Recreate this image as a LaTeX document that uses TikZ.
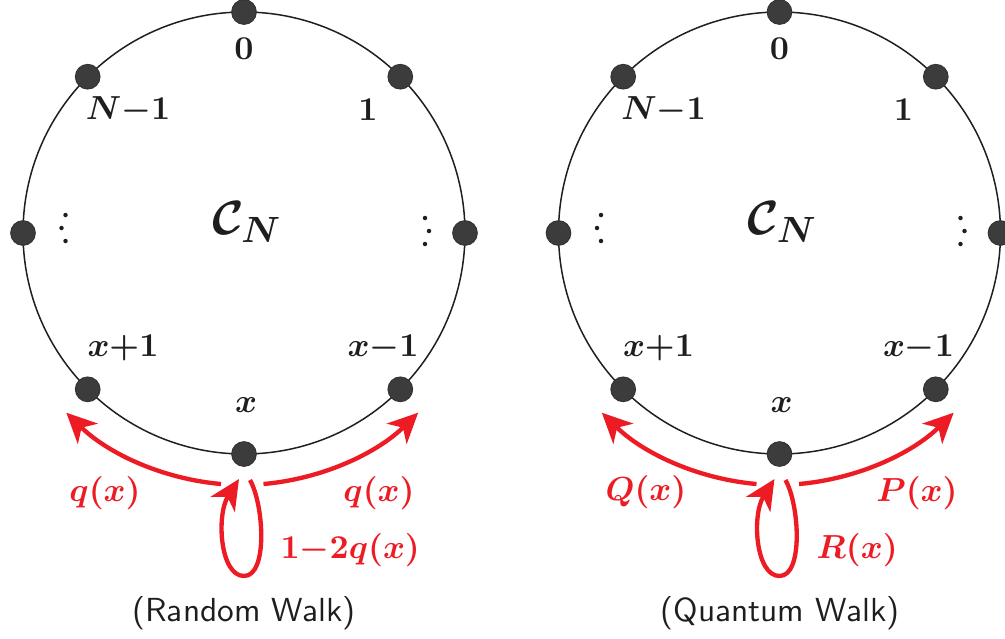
\documentclass[tikz,border=0pt]{standalone}
\usepackage{amsmath}
\usetikzlibrary{arrows.meta}
\definecolor{wred}{RGB}{237,28,36}
\definecolor{ndark}{RGB}{60,60,60}
\definecolor{txt}{RGB}{30,30,30}
\begin{document}
\begin{tikzpicture}[x=0.3pt,y=-0.3pt,
  vtx/.style={circle,fill=ndark,draw=black!80,line width=0.3pt,inner sep=0pt,minimum size=7.4pt},
  lbl/.style={text=txt,font=\boldmath,inner sep=0pt},
  rlbl/.style={text=wred,font=\boldmath,inner sep=0pt},
  ring/.style={line width=0.45pt,draw=black!88},
  warrow/.style={draw=wred,line width=1.3pt,-{Stealth[length=9pt,width=8.5pt,inset=2.6pt]}},
  vdot/.style={circle,fill=txt,inner sep=0pt,minimum size=1.35pt},
  captext/.style={text=txt,font=\sffamily,inner sep=0pt},
  bigC/.style={text=txt,font=\fontsize{15}{18}\selectfont\boldmath,inner sep=0pt}
]
\useasboundingbox (0,0) rectangle (1005,638);
\foreach \o/\s in {0/L,535.5/R}{
  \begin{scope}[shift={(\o,0)}]
    \coordinate (\s-c) at (244,233);
    \draw[ring] (\s-c) circle[radius=221];
    \node[vtx] (\s-v0)  at (244,12) {};
    \node[vtx] (\s-v1)  at (400.3,76.7) {};
    \node[vtx] (\s-vN)  at (87.7,76.7) {};
    \node[vtx] (\s-vl)  at (23,233) {};
    \node[vtx] (\s-vr)  at (465,233) {};
    \node[vtx] (\s-vxp) at (87.7,389.3) {};
    \node[vtx] (\s-vxm) at (400.3,389.3) {};
    \node[vtx] (\s-vx)  at (244,454) {};
    \node[lbl] (\s-l0) at (244,49) {$0$};
    \node[lbl] (\s-lN) at (128,110) {$N{-}1$};
    \node[lbl] (\s-l1) at (368,110) {$1$};
    \node[lbl] (\s-lxp) at (123,348) {$x{+}1$};
    \node[lbl] (\s-lxm) at (383,348) {$x{-}1$};
    \node[lbl] (\s-lx) at (246,405) {$x$};
    \node[bigC] (\s-C) at (247,222) {$\mathcal{C}_N$};
    \node[vdot] (\s-dl1) at (65.5,215) {};
    \node[vdot] (\s-dl2) at (61.5,228) {};
    \node[vdot] (\s-dl3) at (65.5,241) {};
    \node[vdot] (\s-dr1) at (425,218) {};
    \node[vdot] (\s-dr2) at (429,231) {};
    \node[vdot] (\s-dr3) at (425,244) {};
    \coordinate (\s-as) at (221,484);
    \coordinate (\s-bs) at (263.5,484);
    \coordinate (\s-ls) at (250,480);
    \coordinate (\s-lb) at (244,576);
    \coordinate (\s-le) at (239,479);
    \draw[warrow] (\s-as) arc[start angle=95,end angle=134.5,radius=252];
    \draw[warrow] (\s-bs) arc[start angle=85,end angle=45.5,radius=252];
    \draw[warrow] (\s-ls) .. controls (264,505) and (268,576) .. (\s-lb)
                          .. controls (220,576) and (216,515) .. (\s-le);
  \end{scope}
}
\node[rlbl] (L-q1) at (105,493) {$q(x)$};
\node[rlbl] (L-q2) at (379,493) {$q(x)$};
\node[rlbl,anchor=west] (L-q3) at (280,550) {$1{-}2q(x)$};
\node[rlbl] (R-Q) at (646,492) {$Q(x)$};
\node[rlbl] (R-P) at (917,493) {$P(x)$};
\node[rlbl,anchor=west] (R-R) at (816,550) {$R(x)$};
\node[captext] (L-cap) at (244,613) {(Random Walk)};
\node[captext] (R-cap) at (780,613) {(Quantum Walk)};
\end{tikzpicture}
\end{document}
